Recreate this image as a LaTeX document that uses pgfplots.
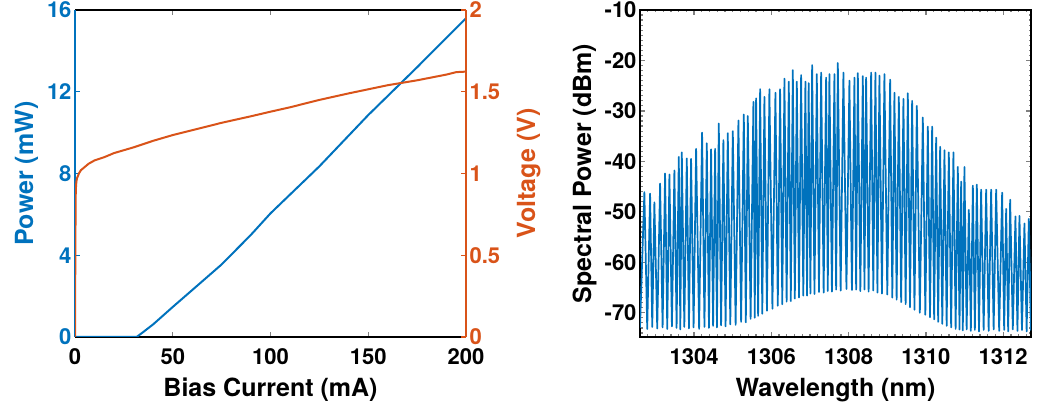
\documentclass[border=0pt]{standalone}
\usepackage{fontspec}
\setmainfont{TeX Gyre Heros}
\usepackage{pgfplots}
\pgfplotsset{compat=1.18}
\definecolor{mblue}{RGB}{0,114,189}
\definecolor{morange}{RGB}{217,83,25}

\begin{document}
\begin{tikzpicture}[x=1pt,y=1pt]
\path[use as bounding box] (0,0) rectangle (1044,406);
\pgfplotsset{
  every axis/.append style={
    scale only axis, width=391pt, height=327pt,
    tick align=inside,
    major tick length=5pt, minor tick length=2.5pt,
    /pgf/number format/assume math mode=true,
    /pgf/number format/1000 sep={},
    ticklabel style={font=\fontsize{22}{26}\selectfont\bfseries},
    label style={font=\fontsize{25}{30}\selectfont\bfseries},
    axis line style={line width=1.6pt},
    every tick/.append style={line width=1.2pt},
    xticklabel style={anchor=base, yshift=-28pt},
  },
}

% left: L-I-V
\begin{axis}[
  at={(75pt,69pt)}, anchor=south west,
  xmin=0, xmax=200, ymin=0, ymax=16,
  axis x line*=box, axis y line*=left,
  xtick={0,50,100,150,200}, ytick={0,4,8,12,16},
  y axis line style={mblue}, ytick style={mblue}, yticklabel style={mblue},
  xlabel={Bias Current (mA)},
  xlabel style={at={(axis description cs:0.5,0)}, anchor=base, yshift=-60pt},
  ylabel={Power (mW)},
  ylabel style={mblue, at={(axis description cs:-0.1074,0.5)}, anchor=base},
]
\addplot[mblue, line width=2pt] coordinates {
  (0,0) (10,0) (20,0) (28,0) (31.5,0) (35,0.25) (40,0.62) (50,1.47)
  (60,2.3) (75,3.55) (90,5.0) (100,6.05) (125,8.35) (150,10.86)
  (175,13.2) (200,15.6)
};
\end{axis}

\begin{axis}[
  at={(75pt,69pt)}, anchor=south west,
  xmin=0, xmax=200, ymin=0, ymax=2,
  axis x line=none, axis y line*=right,
  ytick={0,0.5,1,1.5,2},
  y axis line style={morange}, ytick style={morange}, yticklabel style={morange},
  ylabel={Voltage (V)},
  ylabel style={morange, at={(axis description cs:1.1765,0.5)}, anchor=base},
]
\addplot[morange, line width=2pt] coordinates {
  (0,0) (0.2,0.6) (0.4,0.9) (0.7,0.95) (1,0.97) (2,1.0) (3,1.02) (5,1.04)
  (7,1.06) (10,1.08) (15,1.10) (20,1.125) (30,1.16) (40,1.20) (50,1.235)
  (60,1.265) (75,1.31) (90,1.35) (100,1.378) (110,1.405) (125,1.45)
  (140,1.49) (150,1.515) (160,1.54) (175,1.57) (190,1.605) (195,1.62)
  (200,1.623)
};
\end{axis}

% right: spectrum
\begin{axis}[
  at={(640pt,69pt)}, anchor=south west,
  xmin=1302.6, xmax=1312.72, ymin=-74.8, ymax=-10,
  xtick={1304,1306,1308,1310,1312}, ytick={-70,-60,-50,-40,-30,-20,-10},
  minor xtick={1302.6,1302.8,...,1312.7},
  minor ytick={-74,-73,...,-11},
  xlabel={Wavelength (nm)},
  xlabel style={at={(axis description cs:0.5,0)}, anchor=base, yshift=-60pt},
  ylabel={Spectral Power (dBm)},
  ylabel style={at={(axis description cs:-0.1253,0.5)}, anchor=base},
]
\addplot[mblue, line width=1.7pt, line join=round] table {
1302.600 -73.0
1302.713 -46.1
1302.787 -73.2
1302.861 -46.4
1302.917 -72.8
1302.972 -48.1
1303.046 -73.1
1303.120 -44.4
1303.185 -72.9
1303.249 -42.4
1303.305 -73.2
1303.361 -42.6
1303.426 -72.7
1303.490 -41.8
1303.547 -73.0
1303.604 -39.1
1303.643 -73.3
1303.682 -38.2
1303.747 -72.8
1303.811 -39.4
1303.867 -73.1
1303.922 -39.5
1303.987 -72.9
1304.052 -37.5
1304.130 -73.2
1304.207 -34.3
1304.268 -72.8
1304.329 -36.4
1304.385 -73.0
1304.440 -37.6
1304.492 -72.6
1304.544 -37.5
1304.592 -72.9
1304.639 -32.5
1304.699 -72.5
1304.758 -35.8
1304.815 -72.7
1304.872 -34.4
1304.937 -72.3
1305.002 -34.0
1305.075 -72.4
1305.147 -31.9
1305.217 -71.8
1305.287 -30.7
1305.339 -71.9
1305.390 -31.0
1305.463 -71.2
1305.535 -28.2
1305.570 -71.0
1305.605 -27.5
1305.657 -70.6
1305.709 -25.7
1305.765 -70.2
1305.820 -27.2
1305.885 -69.6
1305.949 -25.7
1306.027 -69.2
1306.105 -26.4
1306.166 -68.6
1306.226 -25.7
1306.282 -68.3
1306.338 -23.6
1306.395 -67.8
1306.451 -24.2
1306.503 -67.7
1306.555 -21.9
1306.607 -67.2
1306.659 -24.2
1306.715 -67.0
1306.770 -22.9
1306.826 -66.6
1306.881 -24.2
1306.923 -66.6
1306.965 -24.5
1307.010 -66.2
1307.055 -20.9
1307.116 -66.3
1307.176 -22.7
1307.232 -65.9
1307.288 -22.4
1307.353 -66.0
1307.417 -23.4
1307.460 -65.7
1307.502 -22.7
1307.567 -65.8
1307.632 -22.7
1307.676 -65.4
1307.720 -20.5
1307.793 -65.6
1307.865 -22.4
1307.943 -65.3
1308.020 -24.0
1308.085 -65.5
1308.150 -23.4
1308.194 -65.4
1308.238 -22.5
1308.303 -65.7
1308.367 -23.1
1308.410 -65.4
1308.452 -23.4
1308.517 -65.8
1308.582 -22.4
1308.638 -65.6
1308.693 -22.4
1308.745 -66.0
1308.797 -23.0
1308.862 -66.2
1308.926 -22.7
1309.000 -66.4
1309.074 -23.8
1309.130 -67.0
1309.185 -26.4
1309.242 -67.4
1309.299 -27.2
1309.359 -67.9
1309.418 -27.6
1309.475 -68.3
1309.532 -26.5
1309.588 -68.9
1309.643 -28.0
1309.704 -69.4
1309.765 -29.0
1309.843 -70.0
1309.920 -31.3
1309.985 -70.4
1310.050 -33.1
1310.106 -70.9
1310.161 -33.1
1310.213 -71.3
1310.265 -35.3
1310.317 -71.8
1310.368 -37.1
1310.424 -72.2
1310.480 -37.8
1310.537 -72.6
1310.593 -38.2
1310.653 -72.9
1310.712 -38.2
1310.769 -73.2
1310.826 -41.1
1310.869 -73.3
1310.912 -44.0
1310.955 -73.5
1310.997 -41.1
1311.054 -73.3
1311.111 -49.6
1311.163 -73.6
1311.215 -44.8
1311.267 -73.4
1311.318 -44.6
1311.374 -73.7
1311.429 -45.6
1311.494 -73.4
1311.559 -45.6
1311.624 -73.6
1311.688 -45.6
1311.753 -73.3
1311.818 -45.6
1311.896 -73.6
1311.973 -46.2
1312.025 -73.4
1312.077 -49.4
1312.129 -73.7
1312.180 -47.6
1312.249 -73.3
1312.317 -50.9
1312.369 -73.6
1312.421 -50.8
1312.486 -73.4
1312.550 -52.3
1312.607 -73.7
1312.664 -51.4
1312.716 -73.4
1312.768 -49.9
};
\end{axis}
\end{tikzpicture}
\end{document}
